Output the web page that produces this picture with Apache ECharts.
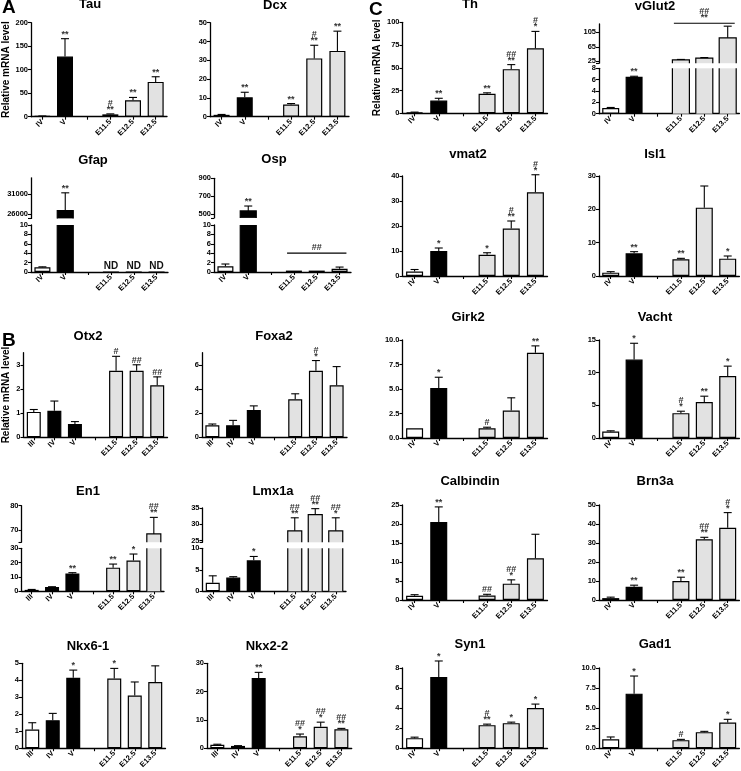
<!DOCTYPE html>
<html><head><meta charset="utf-8">
<script src="https://cdn.jsdelivr.net/npm/echarts@6/dist/echarts.min.js"></script>
<style>html,body{margin:0;padding:0;background:#fff}#c{width:741px;height:771px}</style>
</head><body><div id="c"></div>
<script>
// ---------- categories ----------
const catsAC = ['IV','V','','E11.5','E12.5','E13.5'];
const catsB  = ['III','IV','V','','E11.5','E12.5','E13.5'];

// ---------- Panel A ----------
const tauMean=[1,128,null,5,35,74];
const tauErr =[0.5,38,null,1,6,11];
const tauSig =['','**','','#\n**','**','**'];
const dcxMean=[1,10.3,null,6.5,31,35];
const dcxErr =[0.2,2.7,null,0.5,7,10.5];
const dcxSig =['','**','','**','#\n**','**'];
const gfapMean=[1,26900,null,0,0,0];
const gfapErr =[0.1,4400,null,0,0,0];
const gfapSig =['','**','','ND','ND','ND'];
const gfapUpperTicks=[26000,31000];
const ospMean=[1.2,537,null,0.3,0.3,0.7];
const ospErr =[0.5,55,null,0,0,0.35];
const ospSig =['','**','','','',''];
const ospUpperTicks=[500,700,900];
const ospBracket={from:3,to:5,value:4,text:'##'};

// ---------- Panel B ----------
const otx2Mean=[1.05,1.1,0.55,null,2.75,2.75,2.15];
const otx2Err =[0.1,0.4,0.1,null,0.6,0.25,0.35];
const otx2Sig =['','','','','#','##','##'];
const foxa2Mean=[1,1,2.25,null,3.15,5.5,4.3];
const foxa2Err =[0.1,0.4,0.35,null,0.45,0.85,1.55];
const foxa2Sig =['','','','','','#\n*',''];
const en1Mean=[1,3,12.5,null,16.5,21.5,68.4];
const en1Err =[0.3,0.2,0.5,null,2.5,4.5,6.8];
const en1Sig =['','','**','','**','*','##\n**'];
const en1UpperTicks=[70,80];
const lmx1aMean=[2,3.2,7.2,null,28,33,28];
const lmx1aErr =[1.6,0.2,0.9,null,4,1.8,4];
const lmx1aSig =['','','*','','##\n**','##\n**','##\n*'];
const lmx1aUpperTicks=[25,30,35];
const nkx61Mean=[1.1,1.65,4.15,null,4.1,3.1,3.9];
const nkx61Err =[0.4,0.4,0.45,null,0.6,0.8,0.95];
const nkx61Sig =['','','*','','*','',''];
const nkx22Mean=[1.2,0.8,24.8,null,4.2,7.6,6.7];
const nkx22Err =[0.2,0.1,2,null,0.8,1.6,0.3];
const nkx22Sig =['','','**','','##\n*','##\n*','##\n**'];

// ---------- Panel C ----------
const thMean=[1,14,null,21.5,48.5,71.5];
const thErr =[0.3,2.5,null,1,5,18.5];
const thSig =['','**','','**','##\n**','#\n*'];
const vglut2Mean=[1,6.5,null,29.4,34,90];
const vglut2Err =[0.1,0.1,null,1,1.5,32];
const vglut2Sig =['','**','','','',''];
const vglut2UpperTicks=[25,65,105];
const vglut2Bracket={from:3,to:5,value:130,text:'##\n**'};
const vmat2Mean=[1.8,10,null,8.5,19,33.5];
const vmat2Err =[0.8,1.2,null,0.8,3,7];
const vmat2Sig =['','*','','*','#\n**','#\n*'];
const isl1Mean=[1,6.8,null,5,20.5,5.2];
const isl1Err =[0.3,0.5,null,0.3,6.5,0.8];
const isl1Sig =['','**','','**','','*'];
const girk2Mean=[1,5.1,null,1,2.8,8.7];
const girk2Err =[0,1.1,null,0.1,1.3,0.7];
const girk2Sig =['','*','','#','','**'];
const vachtMean=[1,12,null,3.8,5.5,9.5];
const vachtErr =[0.1,2.5,null,0.3,0.9,1.5];
const vachtSig =['','*','','#\n*','**','*'];
const calbMean=[1.1,20.5,null,1.2,4.3,11];
const calbErr =[0.3,4,null,0.3,1,6.3];
const calbSig =['','**','','##','##\n*',''];
const brn3aMean=[1,7,null,10,32,38];
const brn3aErr =[0.5,0.8,null,2,1,8];
const brn3aSig =['','**','','**','##\n**','#\n*'];
const syn1Mean=[1,7.1,null,2.3,2.5,4];
const syn1Err =[0.1,1.6,null,0.1,0.1,0.4];
const syn1Sig =['','*','','#\n**','*','*'];
const gad1Mean=[1.1,6.8,null,1,2,3.2];
const gad1Err =[0.3,2.2,null,0.1,0.1,0.4];
const gad1Sig =['','*','','#','','*'];

// ---------- styling ----------
const FONT='Liberation Sans, Arial, sans-serif';
const BLACK='#000', GREY='#e2e2e2', WHITE='#fff';
const fillAC=[WHITE,BLACK,WHITE,GREY,GREY,GREY];
const fillB=[WHITE,BLACK,BLACK,WHITE,GREY,GREY,GREY];
const YLAB='Relative mRNA level';

// layout: x=[left,width], y=[top,bottom], t=[titleCenterX,titleCenterY]
const panels=[
 {title:'Tau',cats:catsAC,mean:tauMean,err:tauErr,sig:tauSig,x:[31,136],y:[22.7,116.7],max:200,interval:50,t:[90,6],ylab:14,bw:16},
 {title:'Dcx',cats:catsAC,mean:dcxMean,err:dcxErr,sig:dcxSig,x:[210,139],y:[22.7,116.7],max:50,interval:10,t:[275,6.5],bw:16},
 {title:'Gfap',cats:catsAC,mean:gfapMean,err:gfapErr,sig:gfapSig,x:[31,137],y:[225,272],max:10,interval:2,t:[93,161.5],bw:16,
   upper:{min:25000,max:35000,ticks:gfapUpperTicks,y:[177.8,218.4]}},
 {title:'Osp',cats:catsAC,mean:ospMean,err:ospErr,sig:ospSig,x:[214,137],y:[225,272],max:10,interval:2,t:[274,161],bw:16,
   upper:{min:460,max:900,ticks:ospUpperTicks,y:[178.3,217.9]},bracket:ospBracket},
 {title:'Otx2',cats:catsB,mean:otx2Mean,err:otx2Err,sig:otx2Sig,x:[23.5,144],y:[352.7,437.3],max:3.5,interval:1,t:[88,338.3],ylab:12,bw:14},
 {title:'Foxa2',cats:catsB,mean:foxa2Mean,err:foxa2Err,sig:foxa2Sig,x:[202,145],y:[352.7,437.3],max:7,interval:2,t:[274,338.3],bw:14},
 {title:'En1',cats:catsB,mean:en1Mean,err:en1Err,sig:en1Sig,x:[21.5,142.5],y:[548.3,591.3],max:30,interval:10,t:[88,493],bw:14,
   upper:{min:65,max:80,ticks:en1UpperTicks,y:[505.7,542.2]}},
 {title:'Lmx1a',cats:catsB,mean:lmx1aMean,err:lmx1aErr,sig:lmx1aSig,x:[202.5,143.5],y:[548.3,591.3],max:10,interval:5,t:[273,493],bw:14,
   upper:{min:24.5,max:35,ticks:lmx1aUpperTicks,y:[508,542.3]}},
 {title:'Nkx6-1',cats:catsB,mean:nkx61Mean,err:nkx61Err,sig:nkx61Sig,x:[22,143.5],y:[663.3,748.7],max:5,interval:1,t:[88,648],bw:14},
 {title:'Nkx2-2',cats:catsB,mean:nkx22Mean,err:nkx22Err,sig:nkx22Sig,x:[207,144.7],y:[663.3,748.7],max:30,interval:10,t:[267,647.7],bw:14},
 {title:'Th',cats:catsAC,mean:thMean,err:thErr,sig:thSig,x:[402.5,145],y:[22.3,113.3],max:100,interval:25,t:[470,6],ylab:20,bw:17},
 {title:'vGlut2',cats:catsAC,mean:vglut2Mean,err:vglut2Err,sig:vglut2Sig,x:[599,140.4],y:[68.3,113.7],max:8,interval:2,t:[655,8],bw:17,
   upper:{min:20,max:128,ticks:vglut2UpperTicks,y:[24,63.2]},bracket:vglut2Bracket},
 {title:'vmat2',cats:catsAC,mean:vmat2Mean,err:vmat2Err,sig:vmat2Sig,x:[402.5,145],y:[176,276],max:40,interval:10,t:[468,156],bw:17},
 {title:'Isl1',cats:catsAC,mean:isl1Mean,err:isl1Err,sig:isl1Sig,x:[599,140.4],y:[176,276],max:30,interval:10,t:[655,156],bw:17},
 {title:'Girk2',cats:catsAC,mean:girk2Mean,err:girk2Err,sig:girk2Sig,x:[402.5,145],y:[340,438],max:10,interval:2.5,t:[468,319],bw:17,fmt:1},
 {title:'Vacht',cats:catsAC,mean:vachtMean,err:vachtErr,sig:vachtSig,x:[599,140.4],y:[340,438],max:15,interval:5,t:[655,319],bw:17},
 {title:'Calbindin',cats:catsAC,mean:calbMean,err:calbErr,sig:calbSig,x:[402.5,145],y:[505,600],max:25,interval:5,t:[470,483],bw:17},
 {title:'Brn3a',cats:catsAC,mean:brn3aMean,err:brn3aErr,sig:brn3aSig,x:[599,140.4],y:[505,600],max:50,interval:10,t:[655,483],bw:17},
 {title:'Syn1',cats:catsAC,mean:syn1Mean,err:syn1Err,sig:syn1Sig,x:[402.5,145],y:[668,752],max:8,interval:2,t:[470,646],bw:17},
 {title:'Gad1',cats:catsAC,mean:gad1Mean,err:gad1Err,sig:gad1Sig,x:[599,140.4],y:[668,752],max:10,interval:2.5,t:[655,646],bw:17,fmt:1}
];

const grids=[],xAxes=[],yAxes=[],series=[],titles=[];
const axisLineStyle={show:true,lineStyle:{color:BLACK,width:1.3}};
const tickLab={color:BLACK,fontSize:7.5,fontWeight:'bold',fontFamily:FONT};

function errRender(p){
  return function(params,api){
    const i=api.value(0),m=api.value(1),e=api.value(2);
    const pb=api.coord([i,m]),pt=api.coord([i,m+e]);
    const ch=[];const cap=4;
    if(e>0){
      ch.push({type:'line',shape:{x1:pb[0],y1:pb[1],x2:pt[0],y2:pt[1]},style:{stroke:BLACK,lineWidth:1.1}});
      ch.push({type:'line',shape:{x1:pt[0]-cap,y1:pt[1],x2:pt[0]+cap,y2:pt[1]},style:{stroke:BLACK,lineWidth:1.1}});
    }
    const s=p.sig[i];
    if(s){
      s.split('\n').reverse().forEach((t,k)=>{
        const nd=t==='ND';
        ch.push({type:'text',x:pt[0],y:pt[1]-(nd?1:0)-k*6,
          style:{text:t,fill:nd?'#111':'#333',fontSize:nd?10:9,fontWeight:'bold',fontFamily:FONT,align:'center',verticalAlign:'bottom'}});
      });
    }
    return {type:'group',children:ch};
  };
}
// outline for the two pieces of a bar that crosses an axis break (open at the break)
function brokenOutline(p,part){
  return function(params,api){
    const i=api.value(0),m=api.value(1);
    const hw=p.bw/2;
    const cx=api.coord([i,0])[0];
    let yTop,yBot;
    if(part==='low'){ yTop=api.coord([i,p.max])[1]; yBot=api.coord([i,0])[1];
      return {type:'group',children:[
        {type:'line',shape:{x1:cx-hw,y1:yTop,x2:cx-hw,y2:yBot},style:{stroke:BLACK,lineWidth:1.2}},
        {type:'line',shape:{x1:cx+hw,y1:yTop,x2:cx+hw,y2:yBot},style:{stroke:BLACK,lineWidth:1.2}}]};
    }
    yTop=api.coord([i,m])[1]; yBot=api.coord([i,p.upper.min])[1];
    return {type:'polyline',shape:{points:[[cx-hw,yBot],[cx-hw,yTop],[cx+hw,yTop],[cx+hw,yBot]]},style:{stroke:BLACK,lineWidth:1.2,fill:null}};
  };
}
function bracketRender(b){
  return function(params,api){
    const a=api.coord([b.from,b.value]),c=api.coord([b.to,b.value]);
    const bw=api.size([1,0])[0]*0.3;
    const ch=[{type:'line',shape:{x1:a[0]-bw,y1:a[1],x2:c[0]+bw,y2:c[1]},style:{stroke:BLACK,lineWidth:1.2}}];
    const mid=(a[0]+c[0])/2;
    b.text.split('\n').reverse().forEach((t,k)=>{
      ch.push({type:'text',x:mid,y:a[1]-1-k*6,style:{text:t,fill:'#333',fontSize:9,fontWeight:'bold',fontFamily:FONT,align:'center',verticalAlign:'bottom'}});
    });
    return {type:'group',children:ch};
  };
}

function addGrid(left,width,top,bottom){
  grids.push({left:left,width:width,top:top,height:bottom-top,containLabel:false});
  return grids.length-1;
}
function tickList(max,step){const a=[];for(let v=0;v<=max+1e-9;v+=step)a.push(+v.toFixed(3));return a;}

panels.forEach(p=>{
  const fills=p.cats.length===7?fillB:fillAC;
  const gi=addGrid(p.x[0],p.x[1],p.y[0],p.y[1]);
  const ticks=tickList(p.max,p.interval);
  xAxes.push({gridIndex:gi,type:'category',data:p.cats,
    axisLine:axisLineStyle,axisTick:{show:true,alignWithLabel:true,length:3,lineStyle:{color:BLACK,width:1.1}},
    axisLabel:Object.assign({interval:0,rotate:45,margin:4},tickLab)});
  const ya={gridIndex:gi,type:'value',min:0,max:p.max,
    axisLine:axisLineStyle,axisTick:{show:true,length:3,customValues:ticks,lineStyle:{color:BLACK,width:1.1}},
    axisLabel:Object.assign({margin:3,customValues:ticks,formatter:(v=>p.fmt?Number(v).toFixed(1):String(v))},tickLab),
    splitLine:{show:false}};
  if(p.ylab){
    ya.name=YLAB;ya.nameLocation='middle';ya.nameGap=p.ylab;
    ya.nameTextStyle={color:BLACK,fontSize:10,fontWeight:'bold',fontFamily:FONT};
  }
  yAxes.push(ya);
  const lowMax=p.upper?p.max:Infinity;
  series.push({type:'bar',xAxisIndex:gi,yAxisIndex:gi,barWidth:p.bw,clip:true,
    data:p.mean.map((v,i)=>v==null?'-':{value:v,itemStyle:{color:fills[i],borderColor:BLACK,borderWidth:v>lowMax?0:1.2}})});
  const lowItems=[],upItems=[];
  p.mean.forEach((v,i)=>{ if(v==null)return; (v>lowMax?upItems:lowItems).push([i,v,p.err[i]]); });
  series.push({type:'custom',xAxisIndex:gi,yAxisIndex:gi,renderItem:errRender(p),data:lowItems,clip:false,z:5});
  let bracketGrid=gi;
  if(p.upper){
    const u=p.upper;
    const ug=addGrid(p.x[0],p.x[1],u.y[0],u.y[1]);
    xAxes.push({gridIndex:ug,type:'category',data:p.cats,show:false});
    yAxes.push({gridIndex:ug,type:'value',min:u.min,max:u.max,
      axisLine:axisLineStyle,
      axisTick:{show:true,length:3,customValues:[u.min].concat(u.ticks),lineStyle:{color:BLACK,width:1.1}},
      axisLabel:Object.assign({margin:3,customValues:u.ticks,formatter:(v=>String(v))},tickLab),splitLine:{show:false}});
    series.push({type:'bar',xAxisIndex:ug,yAxisIndex:ug,barWidth:p.bw,clip:true,
      data:p.mean.map((v,i)=>(v==null||v<=lowMax)?'-':{value:v,itemStyle:{color:fills[i],borderWidth:0}})});
    series.push({type:'custom',xAxisIndex:gi,yAxisIndex:gi,renderItem:brokenOutline(p,'low'),data:upItems,clip:false,z:4});
    series.push({type:'custom',xAxisIndex:ug,yAxisIndex:ug,renderItem:brokenOutline(p,'up'),data:upItems,clip:false,z:4});
    series.push({type:'custom',xAxisIndex:ug,yAxisIndex:ug,renderItem:errRender(p),data:upItems,clip:false,z:5});
    if(p.bracket && p.bracket.value>lowMax) bracketGrid=ug;
  }
  if(p.bracket){
    series.push({type:'custom',xAxisIndex:bracketGrid,yAxisIndex:bracketGrid,renderItem:bracketRender(p.bracket),data:[[0]],clip:false,z:5});
  }
  titles.push({text:p.title,left:p.t[0],top:p.t[1]-8,textAlign:'center',padding:0,
    textStyle:{color:BLACK,fontSize:13,fontWeight:'bold',fontFamily:FONT}});
});
titles.push({text:'A',left:2,top:-2,padding:0,textStyle:{color:BLACK,fontSize:19,fontWeight:'bold',fontFamily:FONT}});
titles.push({text:'B',left:2,top:331,padding:0,textStyle:{color:BLACK,fontSize:19,fontWeight:'bold',fontFamily:FONT}});
titles.push({text:'C',left:369,top:0,padding:0,textStyle:{color:BLACK,fontSize:19,fontWeight:'bold',fontFamily:FONT}});

const chart=echarts.init(document.getElementById('c'),null,{renderer:'canvas'});
chart.setOption({animation:false,backgroundColor:'#fff',title:titles,grid:grids,xAxis:xAxes,yAxis:yAxes,series:series});
</script></body></html>
